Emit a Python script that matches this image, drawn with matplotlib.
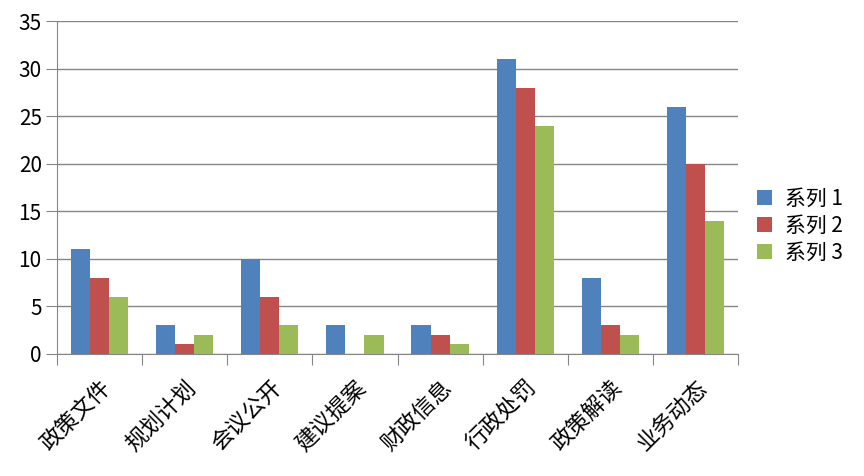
import matplotlib.pyplot as plt
import numpy as np

plt.rcParams['font.family'] = ['Noto Sans CJK SC', 'DejaVu Sans']

categories = ['政策文件', '规划计划', '会议公开', '建议提案', '财政信息', '行政处罚', '政策解读', '业务动态']
series_names = ['系列 1', '系列 2', '系列 3']
series1 = [11, 3, 10, 3, 3, 31, 8, 26]
series2 = [8, 1, 6, 0, 2, 28, 3, 20]
series3 = [6, 2, 3, 2, 1, 24, 2, 14]
colors = ['#4F81BD', '#C0504D', '#9BBB59']

fig = plt.figure(figsize=(8.64, 4.76), dpi=100)
ax = fig.add_axes([57 / 864, 1 - 354 / 476, (738 - 57) / 864, (354 - 21) / 476])

x = np.arange(len(categories))
w = 0.224
for i, (vals, name) in enumerate(zip([series1, series2, series3], series_names)):
    ax.bar(x + (i - 1) * w, vals, w, color=colors[i], label=name, zorder=3)

ax.set_xlim(-0.5, len(categories) - 0.5)
ax.set_ylim(0, 35)
ax.set_yticks(range(0, 36, 5))
ax.yaxis.grid(True, color='#868686', linewidth=1, zorder=0)

# category separators as tick marks
ax.set_xticks(np.arange(-0.5, len(categories)), minor=False)
ax.set_xticklabels([])
ax.set_xticks(x, minor=True)
ax.set_xticklabels(categories, minor=True, rotation=45, ha='right',
                   rotation_mode='anchor', fontsize=16)
ax.tick_params(axis='x', which='minor', length=0, pad=16)
ax.tick_params(axis='x', which='major', length=8, color='#868686')
ax.tick_params(axis='y', length=8, color='#868686', labelsize=15, pad=3)

for s in ['top', 'right']:
    ax.spines[s].set_visible(False)
for s in ['left', 'bottom']:
    ax.spines[s].set_color('#868686')

ax.legend(loc='center left', bbox_to_anchor=(1.0, 0.385), frameon=False,
          fontsize=15, handlelength=0.75, handleheight=0.75, labelspacing=0.25,
          handletextpad=0.6)

fig.savefig('out.png', dpi=100)
